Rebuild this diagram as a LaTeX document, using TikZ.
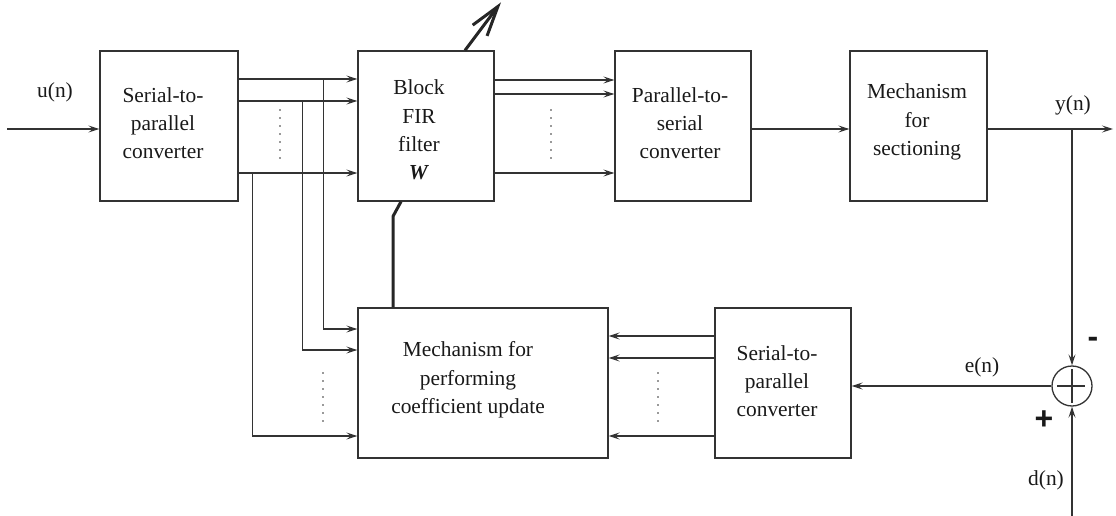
\documentclass[tikz,border=0pt]{standalone}
\usepackage{fontspec}
\setmainfont{Liberation Serif}
\newfontfamily\signfont{Liberation Sans}
\usetikzlibrary{arrows.meta,calc}

\begin{document}
\begin{tikzpicture}[x=1pt,y=-1pt,
  line width=1.3pt,
  every node/.style={font=\fontsize{21.4}{28.3}\selectfont, text=black!90},
  blk/.style={draw=black!80, minimum width=137pt, minimum height=150pt, inner sep=0pt},
  txt/.style={align=center, inner sep=0pt},
  arr/.style={draw=black!80, -{Stealth[length=11pt,width=7pt,inset=4.5pt]}},
  wire/.style={draw=black!80},
  dots/.style={draw=black!80, line width=1.9pt, line cap=round, dash pattern=on 0pt off 8pt},
  wpath/.style={draw=black!85, line width=3pt},
  sign/.style={font=\signfont\bfseries\fontsize{32}{32}\selectfont, inner sep=0pt}
]
\useasboundingbox (0,0) rectangle (1116,516);

% blocks
\node[blk, minimum width=138pt] (s2p1) at (169,126) {};
\node[blk, minimum width=136pt] (fir)  at (426,126) {};
\node[blk, minimum width=136pt] (p2s)  at (683,126) {};
\node[blk]                      (sect) at (918.5,126) {};
\node[blk, minimum width=250pt] (upd)  at (483,383) {};
\node[blk, minimum width=136pt] (s2p2) at (783,383) {};
\node[draw=black!80, circle, minimum size=40pt, inner sep=0pt] (sum) at (1072,386) {};
\draw[wire] ([yshift=-17pt]sum.center) -- ([yshift=17pt]sum.center);
\draw[wire] ([xshift=-15pt]sum.center) -- ([xshift=13pt]sum.center);

% block texts
\node[txt] (s2p1-t) at (163,123) {Serial-to-\\parallel\\converter};
\node[txt] (fir-t)  at (419,130) {Block\\FIR\\filter\\\textbf{\textit{W}}};
\node[txt] (p2s-t)  at (680,123) {Parallel-to-\\serial\\converter};
\node[txt] (sect-t) at (917,122) {Mechanism\\for\\sectioning};
\node[txt] (upd-t)  at (468,380) {Mechanism for\\performing\\coefficient update};
\node[txt] (s2p2-t) at (777,381) {Serial-to-\\parallel\\converter};

% signal labels
\node (u-l) at (55,92)   {u(n)};
\node (y-l) at (1073,105) {y(n)};
\node (e-l) at (982,367) {e(n)};
\node (d-l) at (1046,480) {d(n)};
\node[sign] (minus) at (1093,342) {-};
\node[sign] (plus)  at (1044,420) {+};

% free ends
\coordinate (uin)  at (7,129);
\coordinate (yout) at (1113,129);
\coordinate (din)  at (1072,516);
\coordinate (tap)  at (sum |- yout);

% main signal path
\draw[arr] (uin) -- (uin -| s2p1.west);
\draw[arr] (p2s.east |- uin) -- (sect.west |- uin);
\draw[arr] (sect.east |- yout) -- (yout);

% serial-to-parallel outputs into the filter
\draw[arr] ([yshift=47pt]s2p1.east) -- ([yshift=47pt]fir.west);
\draw[arr] ([yshift=25pt]s2p1.east) -- ([yshift=25pt]fir.west);
\draw[arr] ([yshift=-47pt]s2p1.east) -- ([yshift=-47pt]fir.west);

% taps down to the update block
\draw[arr] ([yshift=47pt]s2p1.east) -- ++(85,0) |- ([yshift=54pt]upd.west);
\draw[arr] ([yshift=25pt]s2p1.east) -- ++(64,0) |- ([yshift=33pt]upd.west);
\draw[arr] ([yshift=-47pt]s2p1.east) -- ++(14,0) |- ([yshift=-53pt]upd.west);

% filter outputs
\draw[arr] ([yshift=46pt]fir.east) -- ([yshift=46pt]p2s.west);
\draw[arr] ([yshift=32pt]fir.east) -- ([yshift=32pt]p2s.west);
\draw[arr] ([yshift=-47pt]fir.east) -- ([yshift=-47pt]p2s.west);

% error path
\draw[arr] (tap) -- (sum.north);
\draw[arr] (din) -- (sum.south);
\draw[arr] (sum.west) -- (sum.west -| s2p2.east);
\draw[arr] ([yshift=47pt]s2p2.west) -- ([yshift=47pt]upd.east);
\draw[arr] ([yshift=25pt]s2p2.west) -- ([yshift=25pt]upd.east);
\draw[arr] ([yshift=-53pt]s2p2.west) -- ([yshift=-53pt]upd.east);

% weight update path and adjustable-weight arrow
\draw[wpath] ([xshift=-90pt]upd.north) -- ++(0,-91) -- ([xshift=-25pt]fir.south);
\draw[wpath, -{Straight Barb[length=30pt,width=18pt]}] ([xshift=39pt]fir.north) -- ++(36,-48);

% dotted continuation marks
\draw[dots] (280,110) -- (280,159);
\draw[dots] (551,110) -- (551,159);
\draw[dots] (323,373) -- (323,422);
\draw[dots] (658,373) -- (658,422);
\end{tikzpicture}
\end{document}
